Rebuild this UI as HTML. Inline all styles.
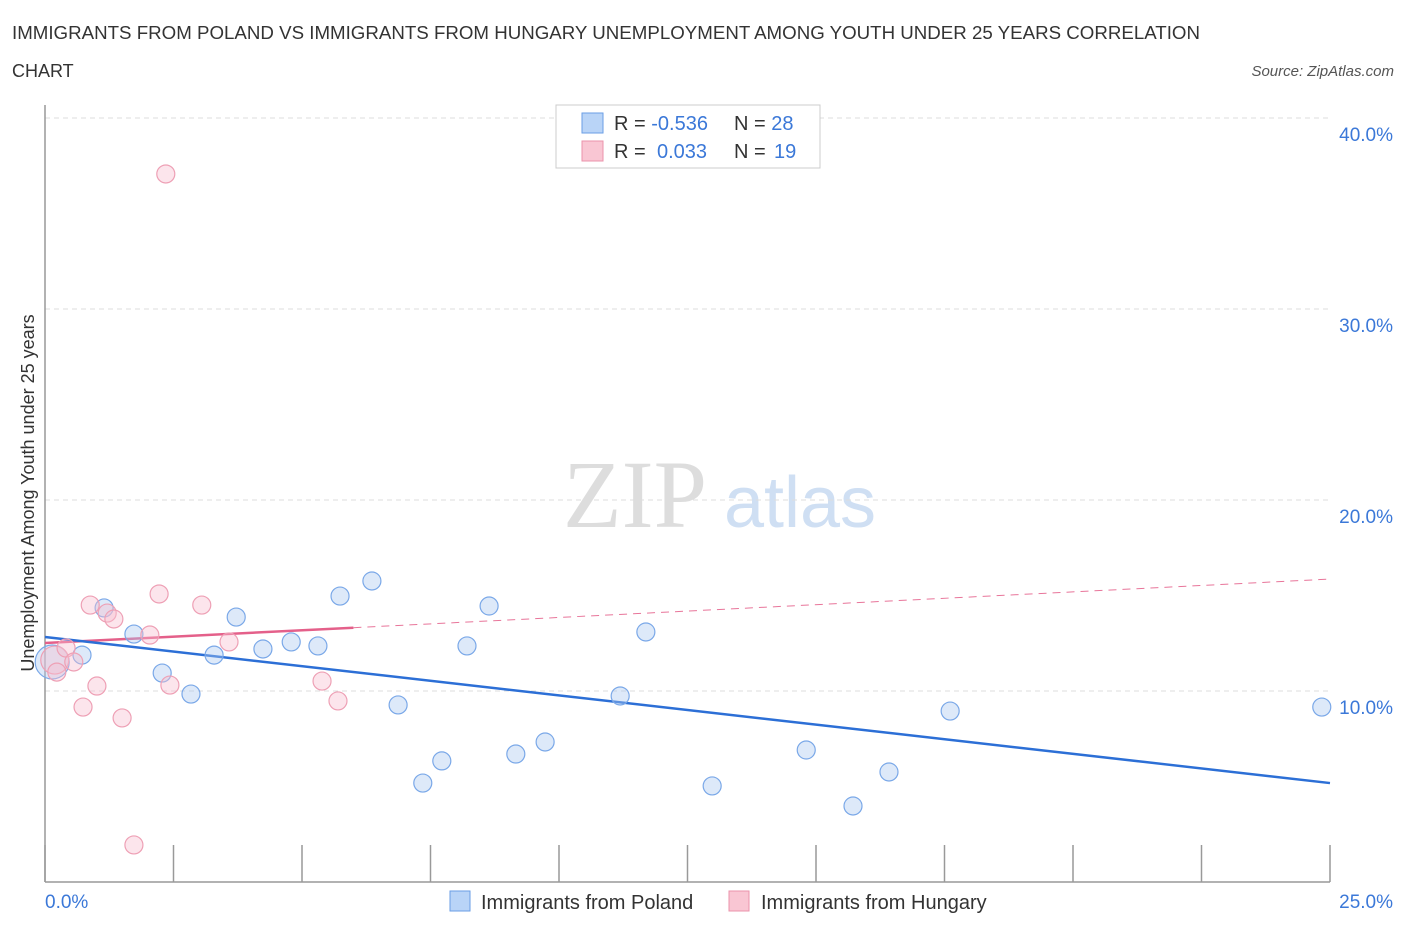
<!DOCTYPE html>
<html><head><meta charset="utf-8"><style>
body{margin:0;background:#fff;font-family:"Liberation Sans",sans-serif;}
</style></head><body>
<svg width="1406" height="930" xmlns="http://www.w3.org/2000/svg" font-family="Liberation Sans, sans-serif">
<text x="12" y="39" font-size="18" fill="#333" textLength="1188" lengthAdjust="spacingAndGlyphs">IMMIGRANTS FROM POLAND VS IMMIGRANTS FROM HUNGARY UNEMPLOYMENT AMONG YOUTH UNDER 25 YEARS CORRELATION</text>
<text x="12" y="77" font-size="18" fill="#333">CHART</text>
<text x="1394" y="76" font-size="15" fill="#555" font-style="italic" text-anchor="end">Source: ZipAtlas.com</text>
<g>
<text x="635" y="527" font-size="96" fill="#ddd" font-family="Liberation Serif, serif" text-anchor="middle">ZIP</text>
<text x="800" y="527" font-size="72" fill="#cfdff3" text-anchor="middle">atlas</text>
</g>
<g id="grid"></g>
<g id="axes"></g>
<g id="lines"></g>
<g id="points"></g>
<text transform="translate(34,493) rotate(-90)" font-size="18" fill="#333" text-anchor="middle">Unemployment Among Youth under 25 years</text>
<text x="45" y="908" font-size="19" fill="#3b78d8">0.0%</text>
<text x="1393" y="908" font-size="19" fill="#3b78d8" text-anchor="end">25.0%</text>
<g>
<rect x="556" y="105" width="264" height="63" fill="#fff" stroke="#ccc"/>
<rect x="582" y="113" width="21" height="20" fill="#b9d4f7" stroke="#6a9ee6"/>
<rect x="582" y="141" width="21" height="20" fill="#f9c6d3" stroke="#eb93ab"/>
<text x="614" y="130" font-size="20" fill="#333">R = <tspan fill="#3b78d8">-0.536</tspan></text>
<text x="734" y="130" font-size="20" fill="#333">N = <tspan fill="#3b78d8">28</tspan></text>
<text x="614" y="158" font-size="20" fill="#333">R = <tspan fill="#3b78d8" x="657">0.033</tspan></text>
<text x="734" y="158" font-size="20" fill="#333">N = <tspan fill="#3b78d8" x="774">19</tspan></text>
</g>
<g>
<rect x="450" y="891" width="20" height="20" fill="#b9d4f7" stroke="#6a9ee6"/>
<text x="481" y="909" font-size="20" fill="#333">Immigrants from Poland</text>
<rect x="729" y="891" width="20" height="20" fill="#f9c6d3" stroke="#eb93ab"/>
<text x="761" y="909" font-size="20" fill="#333">Immigrants from Hungary</text>
</g>
</svg>
<script>
const yTicks=[10,20,30,40];
const yTickLabels=["10.0%","20.0%","30.0%","40.0%"];
const xTicks=[0,2.5,5,7.5,10,12.5,15,17.5,20,22.5,25];
const polandX=[0.14,0.72,1.15,1.73,2.28,2.84,3.29,3.72,4.24,4.79,5.31,5.74,6.36,6.87,7.35,7.72,8.21,8.64,9.16,9.73,11.19,11.69,12.98,14.81,15.72,16.42,17.61,24.84];
const polandY=[11.52,11.88,14.35,12.98,10.94,9.84,11.88,13.87,12.2,12.57,12.36,14.97,15.76,9.27,5.18,6.34,12.36,14.45,6.7,7.33,9.74,13.09,5.03,6.91,3.98,5.76,8.95,9.16];
const hungaryX=[0.19,0.41,0.23,0.56,0.88,1.01,0.74,1.21,1.34,1.5,1.73,2.04,2.22,2.35,2.43,3.05,3.58,5.39,5.7];
const hungaryY=[11.62,12.25,10.99,11.52,14.5,10.26,9.16,14.08,13.77,8.59,1.94,12.93,15.08,37.07,10.31,14.5,12.57,10.52,9.48];
const polandTrend=[12.83,5.18];
const hungaryTrend=[12.51,15.86];
const hungarySolidEnd=6.0;
const NS="http://www.w3.org/2000/svg";
const sx=v=>45+v*51.4, sy=v=>882-v*19.1;
function mk(p,t,a){const e=document.createElementNS(NS,t);for(const k in a)e.setAttribute(k,a[k]);document.getElementById(p).appendChild(e);return e;}
yTicks.forEach((t,i)=>{
 const g=mk('grid','line',{x1:45,x2:1330,y1:sy(t),y2:sy(t),stroke:'#ddd','stroke-dasharray':'5,4'});
 
 
 const tx=mk('grid','text',{x:1393,y:sy(t)+23,'font-size':19,fill:'#3b78d8','text-anchor':'end'});
 tx.textContent=yTickLabels[i];
 
 
});
const ya=mk('axes','line',{x1:45,x2:45,y1:105,y2:882,stroke:'#999','stroke-width':1.5});


const xa=mk('axes','line',{x1:45,x2:1330,y1:882,y2:882,stroke:'#999','stroke-width':1.5});


xTicks.forEach(t=>{
 const l=mk('axes','line',{x1:sx(t),x2:sx(t),y1:845,y2:882,stroke:'#999','stroke-width':1.5});
 
 
});
const hs=hungaryTrend[0]+(hungaryTrend[1]-hungaryTrend[0])*hungarySolidEnd/25;
const hd=mk('lines','line',{x1:sx(hungarySolidEnd),y1:sy(hs),x2:sx(25),y2:sy(hungaryTrend[1]),stroke:'#e8759a','stroke-width':1,'stroke-dasharray':'8,6'});


const hl=mk('lines','line',{x1:sx(0),y1:sy(hungaryTrend[0]),x2:sx(hungarySolidEnd),y2:sy(hs),stroke:'#e4608a','stroke-width':2.5});


const pl=mk('lines','line',{x1:sx(0),y1:sy(polandTrend[0]),x2:sx(25),y2:sy(polandTrend[1]),stroke:'#2c6fd6','stroke-width':2.5});


polandX.forEach((x,i)=>{
 const c=mk('points','circle',{cx:sx(x),cy:sy(polandY[i]),r:i==0?17:9,fill:'rgba(170,200,240,0.4)',stroke:'#7aa8e8','stroke-width':1.2});
 
 
});
hungaryX.forEach((x,i)=>{
 const c=mk('points','circle',{cx:sx(x),cy:sy(hungaryY[i]),r:i==0?14:9,fill:'rgba(248,190,207,0.4)',stroke:'#eea0b5','stroke-width':1.2});
 
 
});
</script>
</body></html>
